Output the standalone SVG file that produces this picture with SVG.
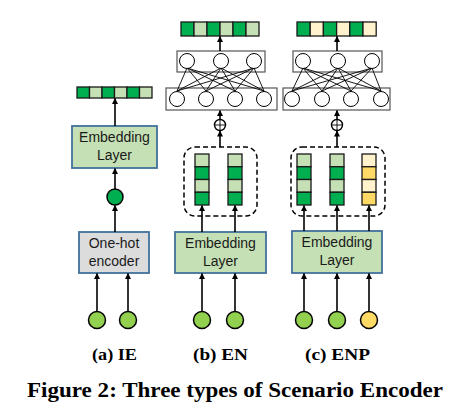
<svg xmlns="http://www.w3.org/2000/svg" width="466" height="410" viewBox="0 0 466 410">
<defs>
<marker id="ah" markerUnits="userSpaceOnUse" markerWidth="6" markerHeight="6" refX="5.5" refY="3" orient="auto"><path d="M0,0 L6,3 L0,6 z" fill="#000"/></marker>
</defs>
<style>
.bg{fill:#fff}
.dk{fill:#00b050;stroke:#1a1a1a;stroke-width:1.3}
.lt{fill:#c5e0b4;stroke:#1a1a1a;stroke-width:1.3}
.cr{fill:#fff2cc;stroke:#1a1a1a;stroke-width:1.3}
.gd{fill:#ffd966;stroke:#1a1a1a;stroke-width:1.3}
.emb{fill:#c5e0b4;stroke:#41719c;stroke-width:1.8}
.oh{fill:#dcdcdc;stroke:#41719c;stroke-width:1.8}
.in{fill:#92d050;stroke:#000;stroke-width:1.5}
.iny{fill:#ffd966;stroke:#000;stroke-width:1.5}
.mid{fill:#00b050;stroke:#000;stroke-width:1.5}
.arr{stroke:#000;stroke-width:1.6;fill:none;marker-end:url(#ah)}
.nnb{fill:#fff;stroke:#555;stroke-width:1.2}
.nnc{fill:#fff;stroke:#000;stroke-width:1}
.nl{stroke:#000;stroke-width:0.9}
.dash{fill:none;stroke:#000;stroke-width:1.5;stroke-dasharray:5,3}
.t{font-family:"Liberation Sans",Arial,sans-serif;font-size:14px;fill:#1a1a1a;text-anchor:middle}
.lab{font-family:"Liberation Serif","Times New Roman",serif;font-weight:bold;font-size:17px;fill:#000;text-anchor:middle}
.cap{font-family:"Liberation Serif","Times New Roman",serif;font-weight:bold;font-size:20px;fill:#000}
.plus{fill:#fff;stroke:#000;stroke-width:1.4}
</style>
<rect class="bg" x="0" y="0" width="466" height="410"/>

<!-- Panel (a) -->
<g id="a-out">
<rect class="dk" x="77" y="87" width="12.5" height="11"/>
<rect class="lt" x="89.5" y="87" width="12.5" height="11"/>
<rect class="dk" x="102" y="87" width="12.5" height="11"/>
<rect class="lt" x="114.5" y="87" width="12.5" height="11"/>
<rect class="dk" x="127" y="87" width="12.5" height="11"/>
<rect class="lt" x="139.5" y="87" width="12.5" height="11"/>
</g>
<g id="a-emb">
<rect class="emb" x="72" y="126" width="85" height="42"/>
<text class="t" x="114.5" y="142">Embedding</text>
<text class="t" x="114.5" y="160">Layer</text>
</g>
<g id="a-mid"><circle class="mid" cx="115" cy="197" r="8"/></g>
<g id="a-oh">
<rect class="oh" x="79" y="232" width="70" height="41"/>
<text class="t" x="114" y="248">One-hot</text>
<text class="t" x="114" y="266">encoder</text>
</g>
<g id="a-in1"><circle class="in" cx="97" cy="320" r="8.5"/></g>
<g id="a-in2"><circle class="in" cx="128" cy="320" r="8.5"/></g>

<!-- Panel (b) -->
<g id="b-out">
<rect class="dk" x="181" y="22" width="13" height="14"/>
<rect class="lt" x="194" y="22" width="13" height="14"/>
<rect class="dk" x="207" y="22" width="13" height="14"/>
<rect class="lt" x="220" y="22" width="13" height="14"/>
<rect class="dk" x="233" y="22" width="13" height="14"/>
<rect class="lt" x="246" y="22" width="13" height="14"/>
</g>
<g id="b-nn">
<rect class="nnb" x="177" y="51" width="88" height="21"/>
<rect class="nnb" x="166" y="88" width="111" height="22"/>
<g>
<line class="nl" x1="187" y1="68" x2="177" y2="91"/><line class="nl" x1="187" y1="68" x2="206" y2="91"/><line class="nl" x1="187" y1="68" x2="235" y2="91"/><line class="nl" x1="187" y1="68" x2="264" y2="91"/>
<line class="nl" x1="221" y1="68" x2="177" y2="91"/><line class="nl" x1="221" y1="68" x2="206" y2="91"/><line class="nl" x1="221" y1="68" x2="235" y2="91"/><line class="nl" x1="221" y1="68" x2="264" y2="91"/>
<line class="nl" x1="254" y1="68" x2="177" y2="91"/><line class="nl" x1="254" y1="68" x2="206" y2="91"/><line class="nl" x1="254" y1="68" x2="235" y2="91"/><line class="nl" x1="254" y1="68" x2="264" y2="91"/>
</g>
<circle class="nnc" cx="187" cy="61" r="7.5"/><circle class="nnc" cx="221" cy="61" r="7.5"/><circle class="nnc" cx="254" cy="61" r="7.5"/>
<circle class="nnc" cx="177" cy="99" r="7.5"/><circle class="nnc" cx="206" cy="99" r="7.5"/><circle class="nnc" cx="235" cy="99" r="7.5"/><circle class="nnc" cx="264" cy="99" r="7.5"/>
</g>
<g id="b-plus">
<circle class="plus" cx="220" cy="125" r="5.5"/>
<line class="nl" x1="214.5" y1="125" x2="225.5" y2="125" stroke-width="1.3"/>
<line class="nl" x1="220" y1="119.5" x2="220" y2="130.5" stroke-width="1.3"/>
</g>
<g id="b-vecs">
<rect class="dash" x="184" y="147" width="73" height="69" rx="11"/>
<rect class="lt" x="195" y="154" width="14" height="12.75"/>
<rect class="dk" x="195" y="166.75" width="14" height="12.75"/>
<rect class="lt" x="195" y="179.5" width="14" height="12.75"/>
<rect class="dk" x="195" y="192.25" width="14" height="12.75"/>
<rect class="lt" x="228" y="154" width="14" height="12.75"/>
<rect class="dk" x="228" y="166.75" width="14" height="12.75"/>
<rect class="lt" x="228" y="179.5" width="14" height="12.75"/>
<rect class="dk" x="228" y="192.25" width="14" height="12.75"/>
</g>
<g id="b-emb">
<rect class="emb" x="175" y="232" width="91" height="41"/>
<text class="t" x="220.5" y="248">Embedding</text>
<text class="t" x="220.5" y="266">Layer</text>
</g>
<g id="b-in1"><circle class="in" cx="202" cy="320" r="8.5"/></g>
<g id="b-in2"><circle class="in" cx="235" cy="320" r="8.5"/></g>

<!-- Panel (c) -->
<g id="c-out">
<rect class="dk" x="297" y="22" width="13.2" height="14"/>
<rect class="cr" x="310.2" y="22" width="13.2" height="14"/>
<rect class="dk" x="323.4" y="22" width="13.2" height="14"/>
<rect class="cr" x="336.6" y="22" width="13.2" height="14"/>
<rect class="dk" x="349.8" y="22" width="13.2" height="14"/>
<rect class="cr" x="363" y="22" width="13.2" height="14"/>
</g>
<g id="c-nn">
<rect class="nnb" x="293" y="51" width="89" height="21"/>
<rect class="nnb" x="283" y="88" width="107" height="22"/>
<g>
<line class="nl" x1="303" y1="68" x2="292" y2="91"/><line class="nl" x1="303" y1="68" x2="322" y2="91"/><line class="nl" x1="303" y1="68" x2="351" y2="91"/><line class="nl" x1="303" y1="68" x2="381" y2="91"/>
<line class="nl" x1="338" y1="68" x2="292" y2="91"/><line class="nl" x1="338" y1="68" x2="322" y2="91"/><line class="nl" x1="338" y1="68" x2="351" y2="91"/><line class="nl" x1="338" y1="68" x2="381" y2="91"/>
<line class="nl" x1="372" y1="68" x2="292" y2="91"/><line class="nl" x1="372" y1="68" x2="322" y2="91"/><line class="nl" x1="372" y1="68" x2="351" y2="91"/><line class="nl" x1="372" y1="68" x2="381" y2="91"/>
</g>
<circle class="nnc" cx="303" cy="61" r="7.5"/><circle class="nnc" cx="338" cy="61" r="7.5"/><circle class="nnc" cx="372" cy="61" r="7.5"/>
<circle class="nnc" cx="292" cy="99" r="7.5"/><circle class="nnc" cx="322" cy="99" r="7.5"/><circle class="nnc" cx="351" cy="99" r="7.5"/><circle class="nnc" cx="381" cy="99" r="7.5"/>
</g>
<g id="c-plus">
<circle class="plus" cx="337" cy="125" r="5.5"/>
<line class="nl" x1="331.5" y1="125" x2="342.5" y2="125" stroke-width="1.3"/>
<line class="nl" x1="337" y1="119.5" x2="337" y2="130.5" stroke-width="1.3"/>
</g>
<g id="c-vecs">
<rect class="dash" x="291" y="147" width="94" height="69" rx="11"/>
<rect class="lt" x="297" y="154" width="14" height="12.75"/>
<rect class="dk" x="297" y="166.75" width="14" height="12.75"/>
<rect class="lt" x="297" y="179.5" width="14" height="12.75"/>
<rect class="dk" x="297" y="192.25" width="14" height="12.75"/>
<rect class="lt" x="330" y="154" width="14" height="12.75"/>
<rect class="dk" x="330" y="166.75" width="14" height="12.75"/>
<rect class="lt" x="330" y="179.5" width="14" height="12.75"/>
<rect class="dk" x="330" y="192.25" width="14" height="12.75"/>
<rect class="cr" x="362" y="154" width="14" height="12.75"/>
<rect class="gd" x="362" y="166.75" width="14" height="12.75"/>
<rect class="cr" x="362" y="179.5" width="14" height="12.75"/>
<rect class="gd" x="362" y="192.25" width="14" height="12.75"/>
</g>
<g id="c-emb">
<rect class="emb" x="292" y="231" width="90" height="42"/>
<text class="t" x="337" y="247">Embedding</text>
<text class="t" x="337" y="265">Layer</text>
</g>
<g id="c-in1"><circle class="in" cx="304" cy="320" r="8.5"/></g>
<g id="c-in2"><circle class="in" cx="337" cy="320" r="8.5"/></g>
<g id="c-in3"><circle class="iny" cx="369" cy="320" r="8.5"/></g>

<!-- Connectors -->
<g id="connectors">
<line class="arr" x1="115" y1="126" x2="115" y2="98.5"/>
<line class="arr" x1="115" y1="189" x2="115" y2="168.5"/>
<line class="arr" x1="115" y1="232" x2="115" y2="205.5"/>
<line class="arr" x1="97" y1="311.5" x2="97" y2="273.5"/>
<line class="arr" x1="128" y1="311.5" x2="128" y2="273.5"/>

<line class="arr" x1="220" y1="51" x2="220" y2="36.5"/>
<line class="arr" x1="220" y1="119.5" x2="220" y2="110.5"/>
<line class="arr" x1="220" y1="147" x2="220" y2="131"/>
<line class="arr" x1="202" y1="232" x2="202" y2="205.5"/>
<line class="arr" x1="235" y1="232" x2="235" y2="205.5"/>
<line class="arr" x1="202" y1="311.5" x2="202" y2="273.5"/>
<line class="arr" x1="235" y1="311.5" x2="235" y2="273.5"/>

<line class="arr" x1="337" y1="51" x2="337" y2="36.5"/>
<line class="arr" x1="337" y1="119.5" x2="337" y2="110.5"/>
<line class="arr" x1="337" y1="147" x2="337" y2="131"/>
<line class="arr" x1="304" y1="231" x2="304" y2="205.5"/>
<line class="arr" x1="337" y1="231" x2="337" y2="205.5"/>
<line class="arr" x1="369" y1="231" x2="369" y2="205.5"/>
<line class="arr" x1="304" y1="311.5" x2="304" y2="273.5"/>
<line class="arr" x1="337" y1="311.5" x2="337" y2="273.5"/>
<line class="arr" x1="369" y1="311.5" x2="369" y2="273.5"/>
</g>

<!-- Labels -->
<text class="lab" x="114.5" y="360" textLength="45" lengthAdjust="spacingAndGlyphs">(a) IE</text>
<text class="lab" x="220.5" y="360" textLength="55" lengthAdjust="spacingAndGlyphs">(b) EN</text>
<text class="lab" x="337.5" y="360" textLength="65" lengthAdjust="spacingAndGlyphs">(c) ENP</text>
<text class="cap" x="27" y="397" textLength="416" lengthAdjust="spacingAndGlyphs">Figure 2: Three types of Scenario Encoder</text>
</svg>
